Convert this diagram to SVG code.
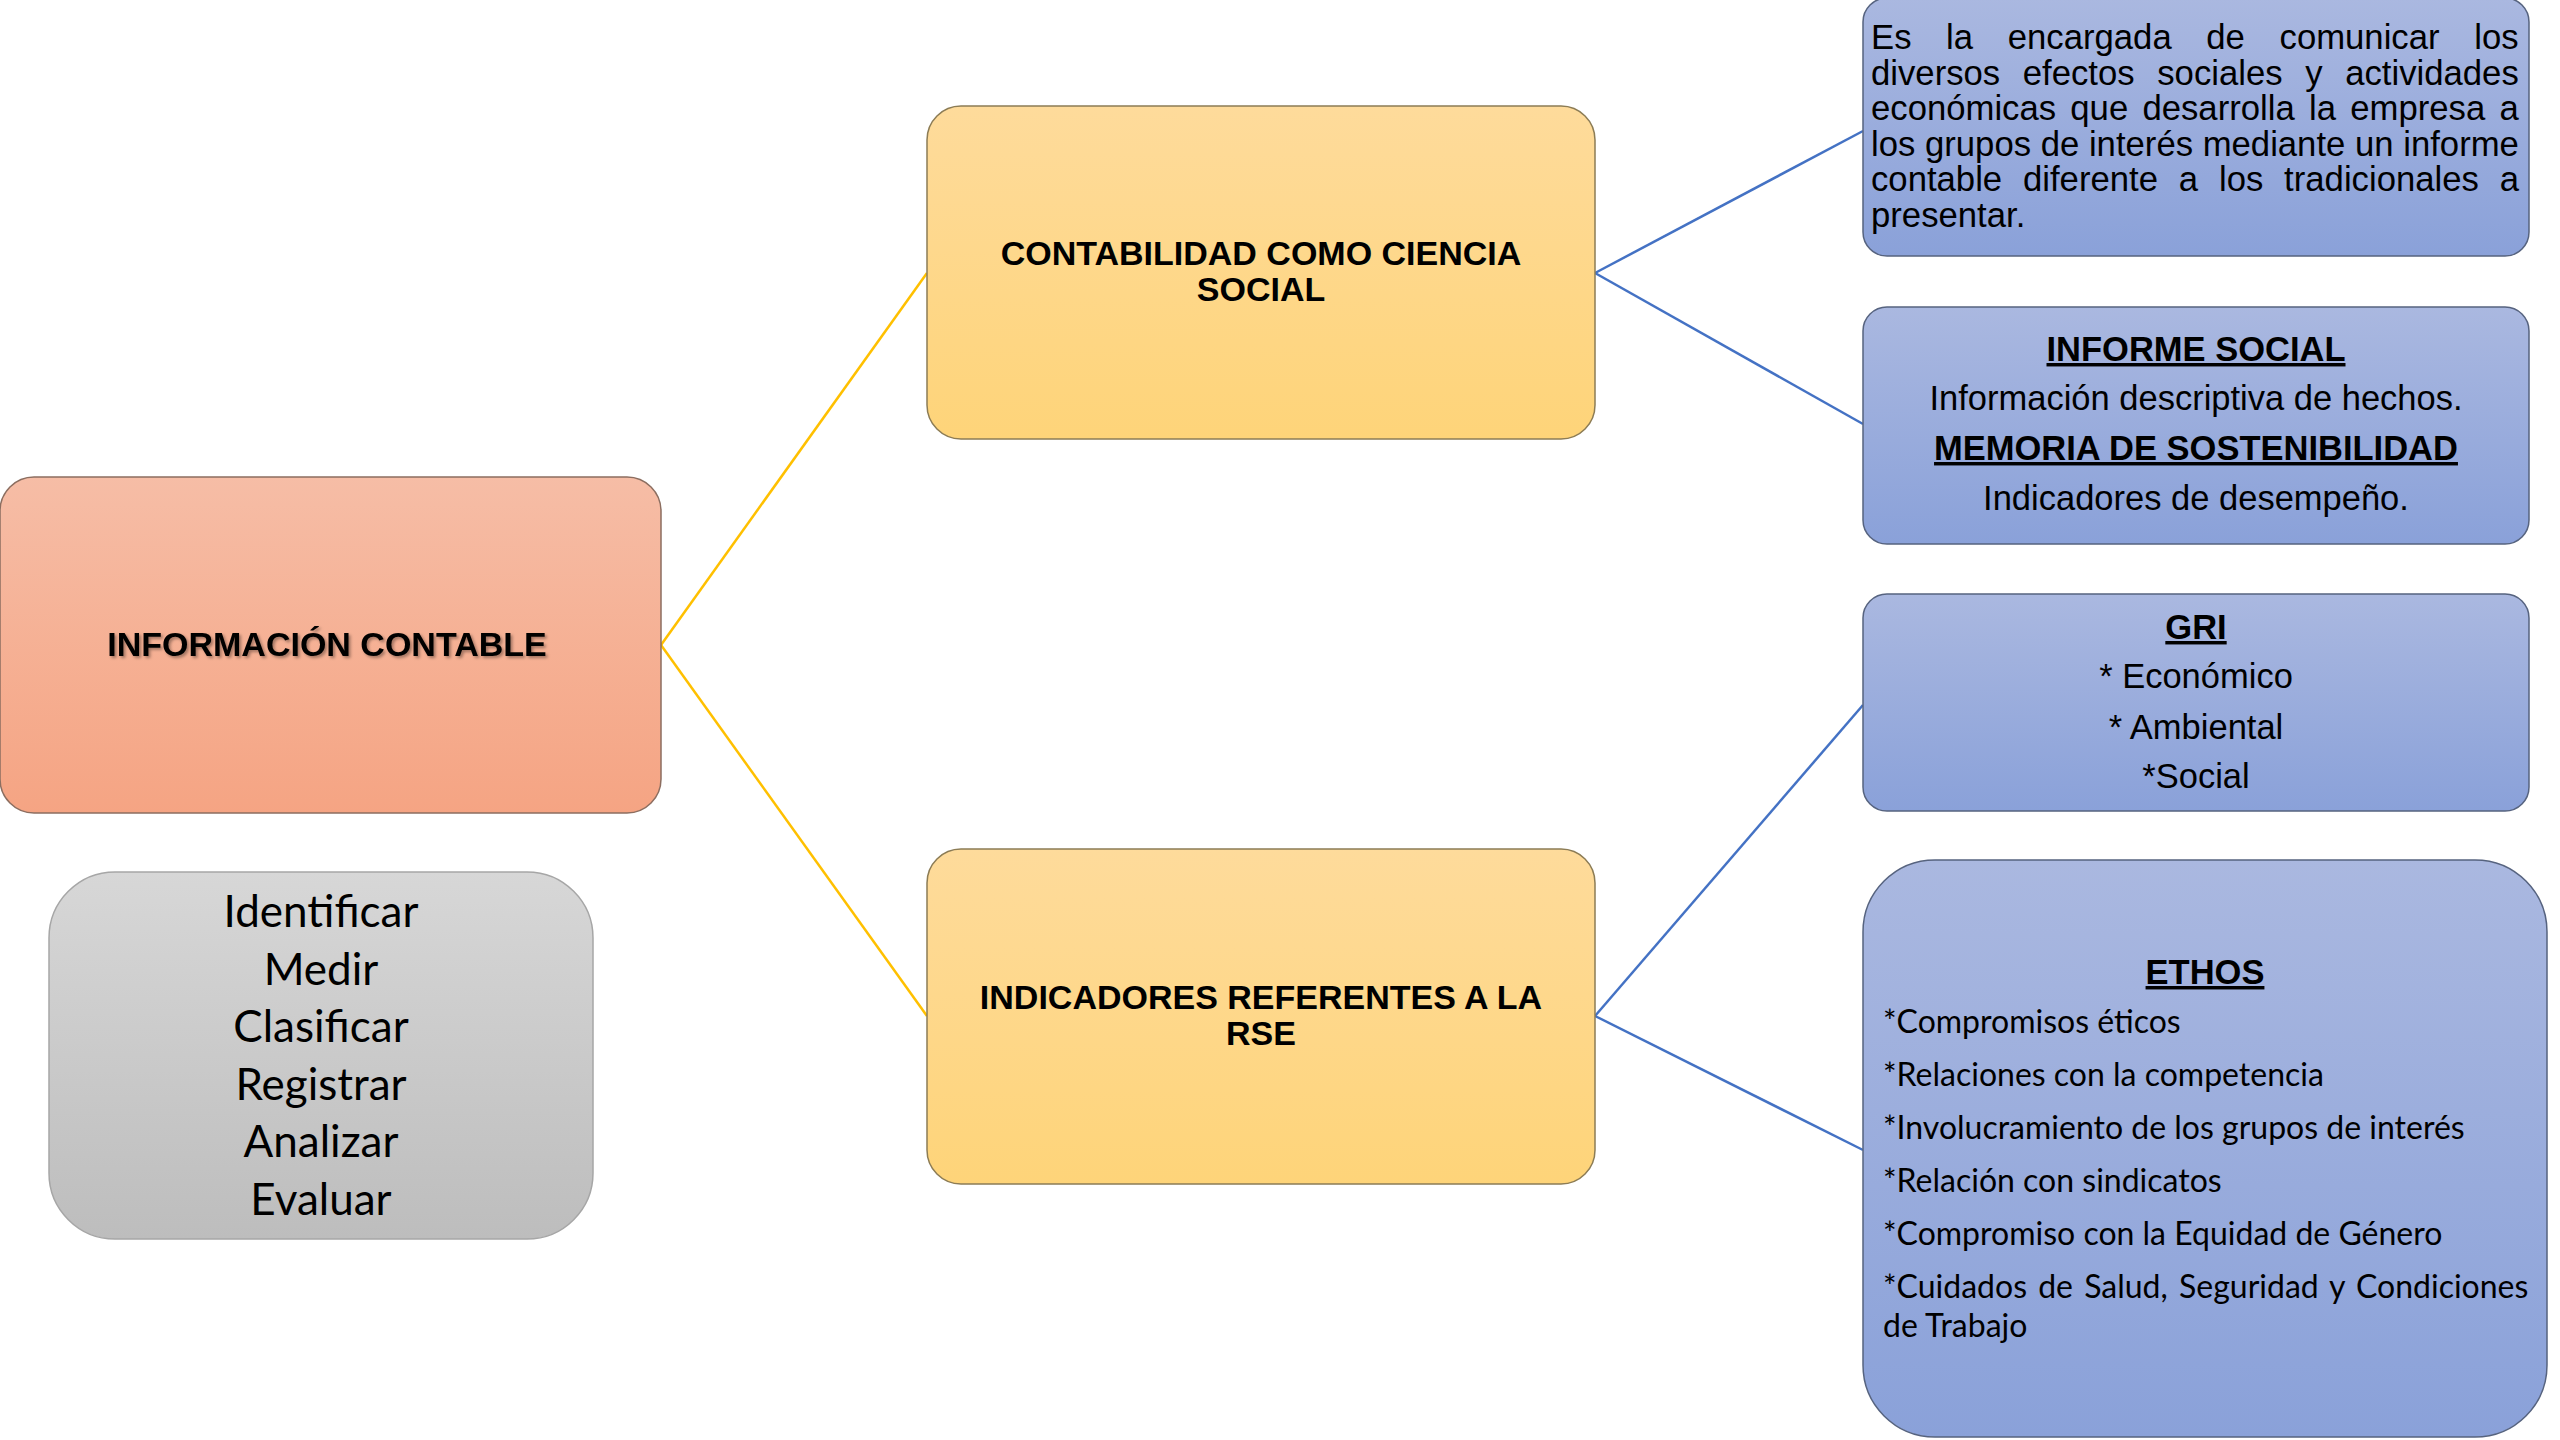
<svg xmlns="http://www.w3.org/2000/svg" width="2560" height="1440" viewBox="0 0 2560 1440">
<defs>
<linearGradient id="gOrange" x1="0" y1="0" x2="0" y2="1"><stop offset="0" stop-color="#F6BDA6"/><stop offset="1" stop-color="#F5A483"/></linearGradient>
<linearGradient id="gYellow" x1="0" y1="0" x2="0" y2="1"><stop offset="0" stop-color="#FEDB9B"/><stop offset="1" stop-color="#FED479"/></linearGradient>
<linearGradient id="gBlue" x1="0" y1="0" x2="0" y2="1"><stop offset="0" stop-color="#AAB8E0"/><stop offset="1" stop-color="#8AA1D9"/></linearGradient>
<linearGradient id="gGray" x1="0" y1="0" x2="0" y2="1"><stop offset="0" stop-color="#D7D7D7"/><stop offset="1" stop-color="#BDBDBD"/></linearGradient>
<filter id="tshadow" x="-5%" y="-20%" width="110%" height="150%"><feDropShadow dx="2" dy="2" stdDeviation="1.5" flood-color="#000" flood-opacity="0.35"/></filter>
</defs>
<style>
.orange{fill:url(#gOrange);stroke:#8C6E60;stroke-width:1.5}
.yellow{fill:url(#gYellow);stroke:#8C7C55;stroke-width:1.5}
.blue{fill:url(#gBlue);stroke:#56637F;stroke-width:1.5}
.gray{fill:url(#gGray);stroke:#A6A6A6;stroke-width:1.5}
.title{font-family:"Liberation Sans",Arial,sans-serif;font-weight:bold;font-size:34px;fill:#000;text-anchor:middle}
.body{font-family:"Liberation Sans",Arial,sans-serif;font-size:34.5px;fill:#000}
.just{font-family:"Liberation Sans",Arial,sans-serif;font-size:34.7px;fill:#000}
.head{font-family:"Liberation Sans",Arial,sans-serif;font-weight:bold;font-size:34.5px;fill:#000;text-anchor:middle;text-decoration:underline}
.cal{font-family:Lato,"Open Sans",sans-serif;font-size:32px;fill:#000}
.calbig{font-family:Lato,"Open Sans",sans-serif;font-size:44px;fill:#000;text-anchor:middle}
.ylink{stroke:#FFC000;stroke-width:2.5;fill:none}
.blink{stroke:#4472C4;stroke-width:2.5;fill:none}
</style>
<rect width="2560" height="1440" fill="#FFFFFF"/>
<g id="connectors">
<line class="ylink" x1="661" y1="645" x2="927" y2="273"/>
<line class="ylink" x1="661" y1="645" x2="927" y2="1016"/>
<line class="blink" x1="1595" y1="273" x2="1863" y2="131"/>
<line class="blink" x1="1595" y1="273" x2="1863" y2="424"/>
<line class="blink" x1="1595" y1="1016" x2="1863" y2="705"/>
<line class="blink" x1="1595" y1="1016" x2="1863" y2="1150"/>
</g>
<g id="informacion-contable">
<rect class="orange" x="0" y="477" width="661" height="336" rx="34"/>
<text class="title" x="327" y="656" filter="url(#tshadow)">INFORMACIÓN CONTABLE</text>
</g>
<g id="acciones">
<rect class="gray" x="49" y="872" width="544" height="367" rx="66"/>
<text class="calbig" x="321" y="927">Identificar</text>
<text class="calbig" x="321" y="985">Medir</text>
<text class="calbig" x="321" y="1042">Clasificar</text>
<text class="calbig" x="321" y="1100">Registrar</text>
<text class="calbig" x="321" y="1157">Analizar</text>
<text class="calbig" x="321" y="1215">Evaluar</text>
</g>
<g id="contabilidad">
<rect class="yellow" x="927" y="106" width="668" height="333" rx="34"/>
<text class="title" x="1261" y="265">CONTABILIDAD COMO CIENCIA</text>
<text class="title" x="1261" y="301">SOCIAL</text>
</g>
<g id="indicadores">
<rect class="yellow" x="927" y="849" width="668" height="335" rx="34"/>
<text class="title" x="1261" y="1009">INDICADORES REFERENTES A LA</text>
<text class="title" x="1261" y="1045">RSE</text>
</g>
<g id="descripcion">
<rect class="blue" x="1863" y="-2" width="666" height="258" rx="24"/>
<text class="just" x="1871" y="49" style="word-spacing:25px">Es la encargada de comunicar los</text>
<text class="just" x="1871" y="85" style="word-spacing:13px">diversos efectos sociales y actividades</text>
<text class="just" x="1871" y="120" style="word-spacing:4.6px">económicas que desarrolla la empresa a</text>
<text class="just" x="1871" y="156">los grupos de interés mediante un informe</text>
<text class="just" x="1871" y="191" style="word-spacing:11.2px">contable diferente a los tradicionales a</text>
<text class="just" x="1871" y="227">presentar.</text>
</g>
<g id="informe-social">
<rect class="blue" x="1863" y="307" width="666" height="237" rx="24"/>
<text class="head" x="2196" y="361">INFORME SOCIAL</text>
<text class="body" x="2196" y="410" text-anchor="middle">Información descriptiva de hechos.</text>
<text class="head" x="2196" y="460">MEMORIA DE SOSTENIBILIDAD</text>
<text class="body" x="2196" y="510" text-anchor="middle">Indicadores de desempeño.</text>
</g>
<g id="gri">
<rect class="blue" x="1863" y="594" width="666" height="217" rx="24"/>
<text class="head" x="2196" y="639">GRI</text>
<text class="body" x="2196" y="688" text-anchor="middle">* Económico</text>
<text class="body" x="2196" y="739" text-anchor="middle">* Ambiental</text>
<text class="body" x="2196" y="788" text-anchor="middle">*Social</text>
</g>
<g id="ethos">
<rect class="blue" x="1863" y="860" width="684" height="577" rx="72"/>
<text class="head" x="2205" y="984">ETHOS</text>
<text class="cal" x="1883" y="1033">*Compromisos éticos</text>
<text class="cal" x="1883" y="1086">*Relaciones con la competencia</text>
<text class="cal" x="1883" y="1139">*Involucramiento de los grupos de interés</text>
<text class="cal" x="1883" y="1192">*Relación con sindicatos</text>
<text class="cal" x="1883" y="1245">*Compromiso con la Equidad de Género</text>
<text class="cal" x="1883" y="1298" style="word-spacing:3px">*Cuidados de Salud, Seguridad y Condiciones</text>
<text class="cal" x="1883" y="1337">de Trabajo</text>
</g>
</svg>
